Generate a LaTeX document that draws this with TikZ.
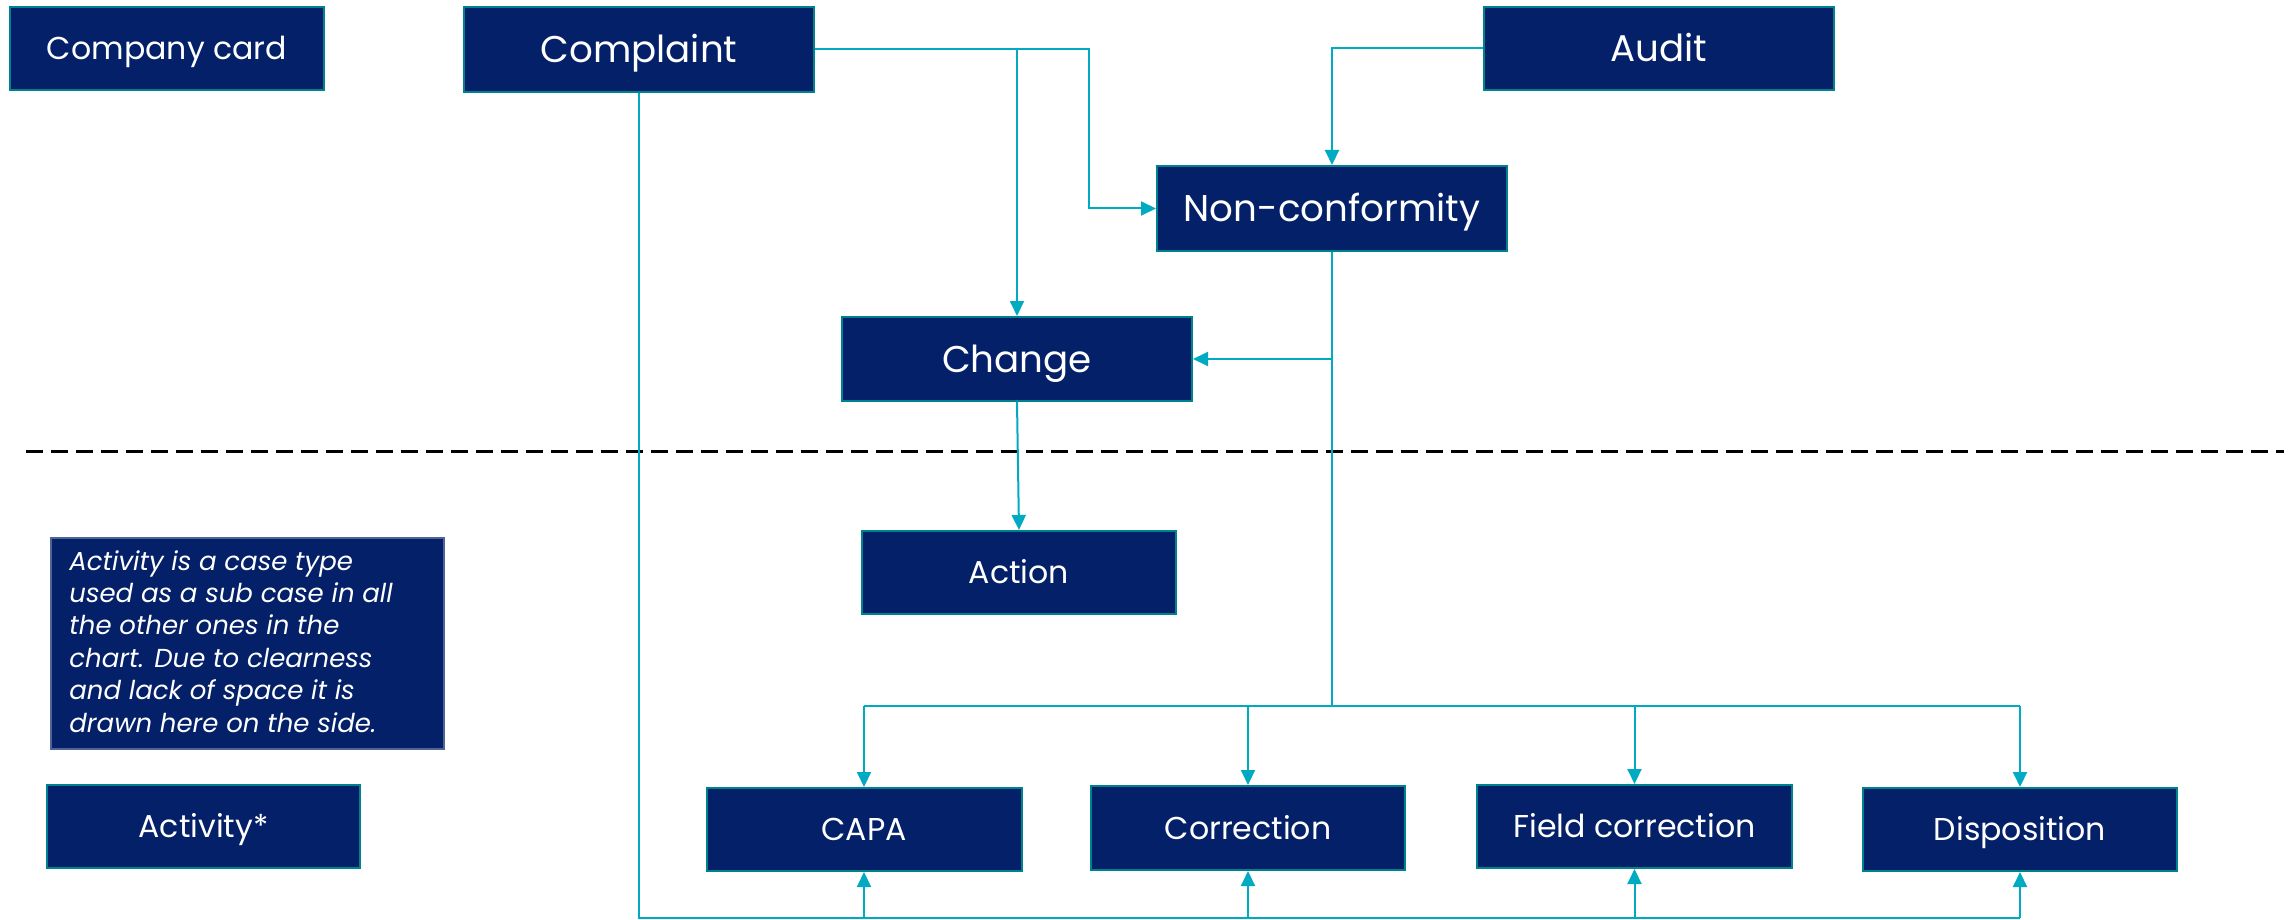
\documentclass[tikz,border=0pt]{standalone}
\usepackage{fontspec}
\setmainfont{Poppins}
\usetikzlibrary{arrows.meta}
\definecolor{navy}{RGB}{3,32,104}
\definecolor{bordteal}{RGB}{0,130,142}
\definecolor{conn}{RGB}{0,170,194}
\tikzset{
  box/.style={draw=bordteal, fill=navy, text=white, line width=1pt, inner sep=0pt, align=center, text depth=0pt},
  bigbox/.style={box, font=\fontsize{18.6}{22}\selectfont, text height=13pt},
  smallbox/.style={box, font=\fontsize{15.8}{19}\selectfont, text height=11.1pt},
  notebox/.style={draw=navy!70!white, fill=navy, text=white, line width=0.6pt, inner sep=0pt},
  wire/.style={draw=conn, line width=1pt},
  arr/.style={wire, -{Triangle[length=7.5pt,width=7pt]}},
}
\begin{document}
\begin{tikzpicture}[x=0.5pt,y=-0.5pt]
\useasboundingbox (0,0) rectangle (2288,920);
% nodes
\node[smallbox, minimum width=157pt, minimum height=41.5pt] (card) at (167,48.5) {Company card};
\node[bigbox, minimum width=175pt, minimum height=42.5pt] (complaint) at (639,49.5) {Complaint};
\node[bigbox, minimum width=175pt, minimum height=41.5pt] (audit) at (1659,48.5) {Audit};
\node[bigbox, minimum width=175pt, minimum height=42.5pt] (nonconf) at (1332,208.5) {Non-conformity};
\node[bigbox, minimum width=175pt, minimum height=42pt] (change) at (1017,359) {Change};
\node[smallbox, minimum width=157pt, minimum height=41.5pt] (action) at (1019,572.5) {Action};
\node[notebox, minimum width=196.5pt, minimum height=105.5pt] (note) at (247.5,643.5) {};
\node[anchor=north west, text=white, inner sep=0pt, align=left,
      font=\fontsize{13}{16.2}\selectfont\itshape] (notetext) at (69,550)
  {Activity is a case type\\used as a sub case in all\\the other ones in the\\chart. Due to clearness\\and lack of space it is\\drawn here on the side.};
\node[smallbox, minimum width=156.5pt, minimum height=41.5pt] (activity) at (203.5,826.5) {Activity*};
\node[smallbox, minimum width=157.5pt, minimum height=41.5pt] (capa) at (864,829.5) {CAPA};
\node[smallbox, minimum width=157pt, minimum height=42pt] (correction) at (1248,828) {Correction};
\node[smallbox, minimum width=157.5pt, minimum height=41.5pt] (field) at (1634.5,826.5) {Field correction};
\node[smallbox, minimum width=157pt, minimum height=41.5pt] (disposition) at (2020,829.5) {Disposition};
% coordinates
\coordinate (cbend) at (1089,49.5);
\coordinate (bus) at (1332,706);
\coordinate (low) at (639,918);
\coordinate (dl) at (26,451.5);
\coordinate (dr) at (2284,451.5);
% dashed separator
\draw[black, line width=1.2pt, dash pattern=on 8.5pt off 4pt] (dl) -- (dr);
% connectors top
\draw[arr] (complaint.east) -- (cbend) |- (nonconf.west);
\draw[arr] (complaint.east -| change.north) -- (change.north);
\draw[arr] (audit.west) -| (nonconf.north);
\draw[wire] (nonconf.south) -- (bus);
\draw[arr] (nonconf.south |- change.east) -- (change.east);
\draw[arr] (change.south) -- (action.north);
% bus to bottom row
\draw[wire] (capa.north |- bus) -- (disposition.north |- bus);
\draw[arr] (capa.north |- bus) -- (capa.north);
\draw[arr] (correction.north |- bus) -- (correction.north);
\draw[arr] (field.north |- bus) -- (field.north);
\draw[arr] (disposition.north |- bus) -- (disposition.north);
% complaint bottom line
\draw[wire] (complaint.south) -- (low) -- (disposition.south |- low);
\draw[arr] (capa.south |- low) -- (capa.south);
\draw[arr] (correction.south |- low) -- (correction.south);
\draw[arr] (field.south |- low) -- (field.south);
\draw[arr] (disposition.south |- low) -- (disposition.south);
\end{tikzpicture}
\end{document}
